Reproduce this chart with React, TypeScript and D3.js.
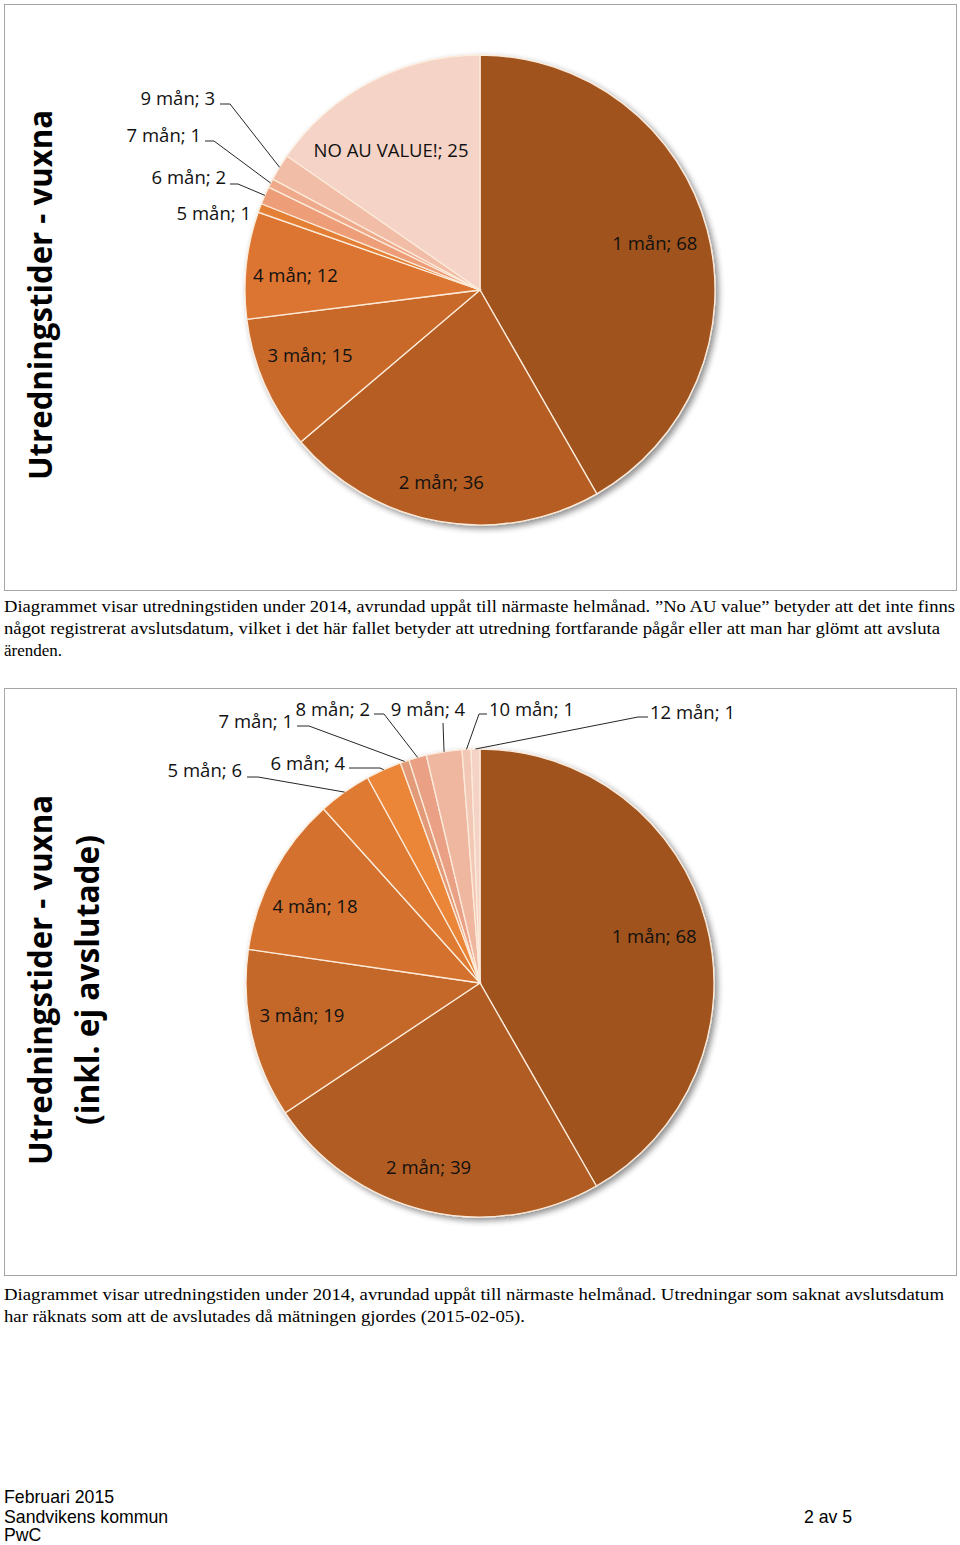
import React from 'react';
import * as d3 from 'd3';

// --- data ---
const cats1 = ['1 mån', '2 mån', '3 mån', '4 mån', '5 mån', '6 mån', '7 mån', '9 mån', 'NO AU VALUE!'];
const vals1 = [68, 36, 15, 12, 1, 2, 1, 3, 25];
const colors1 = ['#A0521F', '#B55D23', '#C8692B', '#DD7530', '#E48036', '#ED9D78', '#EFA98B', '#F2BDA7', '#F5D3C6'];

const cats2 = ['1 mån', '2 mån', '3 mån', '4 mån', '5 mån', '6 mån', '7 mån', '8 mån', '9 mån', '10 mån', '12 mån'];
const vals2 = [68, 39, 19, 18, 6, 4, 1, 2, 4, 1, 1];
const colors2 = ['#A0521F', '#B15B22', '#C4672A', '#D4712D', '#DE7A33', '#EB8538', '#E39A78', '#EAA085', '#F0B7A0', '#F3C7B5', '#F4D2C5'];

const caption1 = [
  'Diagrammet visar utredningstiden under 2014, avrundad uppåt till närmaste helmånad. ”No AU value” betyder att det inte finns',
  'något registrerat avslutsdatum, vilket i det här fallet betyder att utredning fortfarande pågår eller att man har glömt att avsluta',
  'ärenden.',
];
const caption2 = [
  'Diagrammet visar utredningstiden under 2014, avrundad uppåt till närmaste helmånad. Utredningar som saknat avslutsdatum',
  'har räknats som att de avslutades då mätningen gjordes (2015-02-05).',
];

// label layout: inside labels sit near the slice centroid, outside ones get a leader line
type Lbl = { r?: number; dx?: number; dy?: number; x?: number; y?: number; anchor?: string; lead?: number[] };
const layout1: Lbl[] = [
  { r: 0.77 },
  { r: 0.83, dx: -5 },
  { r: 0.79, dy: -9 },
  { r: 0.79, dy: 5 },
  { x: 251, y: 220, anchor: 'end' },
  { x: 226, y: 184, anchor: 'end', lead: [230, 184, 238, 184] },
  { x: 201, y: 142, anchor: 'end', lead: [205, 141, 214, 141] },
  { x: 215, y: 105, anchor: 'end', lead: [220, 104, 230, 104] },
  { r: 0.67, dx: -16 },
];
const layout2: Lbl[] = [
  { r: 0.77 },
  { r: 0.81, dx: -8 },
  { r: 0.78, dy: -8 },
  { r: 0.79, dy: 11, dx: -2 },
  { x: 242, y: 777, anchor: 'end', lead: [247, 777, 258, 777] },
  { x: 345, y: 770, anchor: 'end', lead: [349, 768, 380, 768] },
  { x: 293, y: 728, anchor: 'end', lead: [297, 726, 309, 726] },
  { x: 370, y: 716, anchor: 'end', lead: [374, 714, 384, 714] },
  { x: 428, y: 716, anchor: 'middle', lead: [443, 723, 443, 723] },
  { x: 489, y: 716, anchor: 'start', lead: [487, 714, 479, 714] },
  { x: 650, y: 719, anchor: 'start', lead: [648, 717, 638, 717] },
];

const labelFont = "'Open Sans', sans-serif";

function Pie({ cats, vals, colors, layout, cx, cy, radius, id }: any) {
  const pieGen = d3.pie<number>().sort(null).value((d) => d);
  const slices = pieGen(vals);
  const arcGen = d3.arc<any>().innerRadius(0).outerRadius(radius);
  const edge = d3.arc<any>().innerRadius(radius).outerRadius(radius);
  return (
    <g transform={`translate(${cx},${cy})`}>
      <g filter={`url(#shadow${id})`}>
        {slices.map((s, i) => (
          <path key={cats[i]} d={arcGen(s) as string} fill={colors[i]} stroke="#FCEBDA" strokeWidth={1.3} />
        ))}
      </g>
      {slices.map((s, i) => {
        const L = layout[i];
        const label = `${cats[i]}; ${vals[i]}`;
        if (L.x !== undefined) {
          const [ex, ey] = edge.centroid(s);
          return (
            <g key={'l' + i}>
              {L.lead && (
                <polyline
                  points={`${L.lead[0] - cx},${L.lead[1] - cy} ${L.lead[2] - cx},${L.lead[3] - cy} ${ex},${ey}`}
                  fill="none"
                  stroke="#262626"
                  strokeWidth={1}
                />
              )}
              <text x={L.x - cx} y={L.y - cy} textAnchor={L.anchor} fontFamily={labelFont} fontSize={18.5} fill="#111">
                {label}
              </text>
            </g>
          );
        }
        const mid = (s.startAngle + s.endAngle) / 2;
        const rr = radius * (L.r || 0.78);
        const tx = rr * Math.sin(mid) + (L.dx || 0);
        const ty = -rr * Math.cos(mid) + (L.dy || 0);
        return (
          <text key={'l' + i} x={tx} y={ty} dy="0.35em" textAnchor="middle" fontFamily={labelFont} fontSize={18.5} fill="#111">
            {label}
          </text>
        );
      })}
    </g>
  );
}

export default function App() {
  const capFont = "'Liberation Serif', 'Times New Roman', serif";
  return (
    <svg width={960} height={1545} style={{ position: 'absolute', left: 0, top: 0, background: '#fff' }}>
      <defs>
        {[1, 2].map((k) => (
          <filter key={k} id={`shadow${k}`} x="-10%" y="-10%" width="120%" height="120%">
            <feGaussianBlur in="SourceAlpha" stdDeviation={3} />
            <feOffset dx={3} dy={3} result="b" />
            <feComponentTransfer>
              <feFuncA type="linear" slope={0.45} />
            </feComponentTransfer>
            <feMerge>
              <feMergeNode />
              <feMergeNode in="SourceGraphic" />
            </feMerge>
          </filter>
        ))}
      </defs>

      {/* chart 1 */}
      <rect x={4.5} y={4.5} width={952} height={586} fill="#fff" stroke="#a6a6a6" strokeWidth={1} />
      <text
        transform="translate(52,295) rotate(-90)"
        textAnchor="middle"
        fontFamily={labelFont}
        fontWeight="bold"
        fontSize={33}
        textLength={370}
        lengthAdjust="spacingAndGlyphs"
        fill="#000"
      >
        Utredningstider - vuxna
      </text>
      <Pie cats={cats1} vals={vals1} colors={colors1} layout={layout1} cx={480} cy={290} radius={235} id={1} />
      {caption1.map((t, i) => (
        <text
          key={i}
          x={4}
          y={612 + i * 22}
          fontFamily={capFont}
          fontSize={17}
          fill="#000"
          textLength={i === 0 ? 951 : i === 1 ? 936 : undefined}
          lengthAdjust="spacingAndGlyphs"
        >
          {t}
        </text>
      ))}

      {/* chart 2 */}
      <rect x={4.5} y={688.5} width={952} height={587} fill="#fff" stroke="#a6a6a6" strokeWidth={1} />
      <text
        transform="translate(52,980) rotate(-90)"
        textAnchor="middle"
        fontFamily={labelFont}
        fontWeight="bold"
        fontSize={33}
        textLength={370}
        lengthAdjust="spacingAndGlyphs"
        fill="#000"
      >
        Utredningstider - vuxna
      </text>
      <text
        transform="translate(99,980) rotate(-90)"
        textAnchor="middle"
        fontFamily={labelFont}
        fontWeight="bold"
        fontSize={33}
        textLength={290}
        lengthAdjust="spacingAndGlyphs"
        fill="#000"
      >
        (inkl. ej avslutade)
      </text>
      <Pie cats={cats2} vals={vals2} colors={colors2} layout={layout2} cx={480} cy={983} radius={234} id={2} />
      {caption2.map((t, i) => (
        <text
          key={i}
          x={4}
          y={1300 + i * 22}
          fontFamily={capFont}
          fontSize={17}
          fill="#000"
          textLength={i === 0 ? 940 : 521}
          lengthAdjust="spacingAndGlyphs"
        >
          {t}
        </text>
      ))}

      {/* footer */}
      <g fontFamily="'Liberation Sans', Arial, sans-serif" fontSize={17.7} fill="#000">
        <text x={4} y={1503}>Februari 2015</text>
        <text x={4} y={1523}>Sandvikens kommun</text>
        <text x={4} y={1541}>PwC</text>
        <text x={804} y={1523}>2 av 5</text>
      </g>
    </svg>
  );
}
